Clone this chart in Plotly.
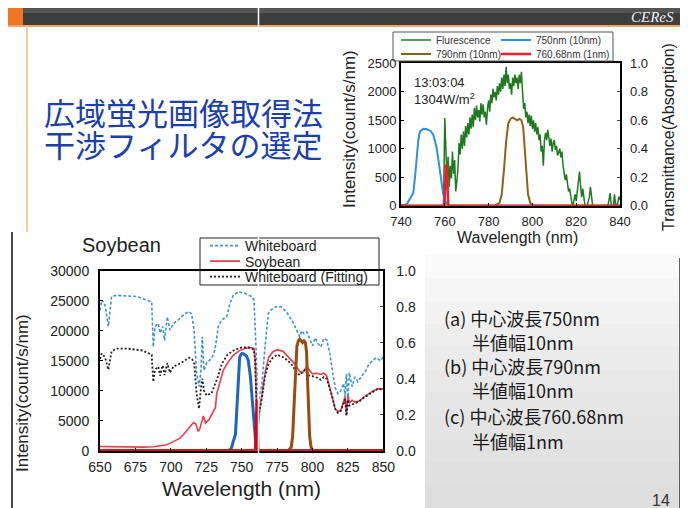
import plotly.graph_objects as go

# ---------------- data ----------------
# Top chart: fluorescence spectrum (count/s/nm)
fl_wl = [740, 759.4, 760.0, 760.5, 761.0, 761.5, 762.0, 762.5, 763.0, 763.5, 764.0, 764.5, 765.0, 765.5,
         766.0, 766.5, 767.0, 767.5, 768.0, 768.5, 769.0, 769.5, 770.0, 770.5, 771.0, 771.5, 772.0, 772.5,
         773.0, 773.5, 774.0, 774.5, 775.0, 775.5, 776.0, 776.5, 777.0, 777.5, 778.0, 778.5, 779.0, 779.5,
         780.0, 780.5, 781.0, 781.5, 782.0, 782.5, 783.0, 783.5, 784.0, 784.5, 785.0, 785.5, 786.0, 786.5,
         787.0, 787.5, 788.0, 788.5, 789.0, 789.5, 790.0, 790.5, 791.0, 791.5, 792.0, 792.5, 793.0, 793.5,
         794.0, 794.5, 795.0, 795.5, 796.0, 796.5, 797.0, 797.5, 798.0, 798.5, 799.0, 799.5, 800.0, 800.5,
         801.0, 801.5, 802.0, 802.5, 803.0, 803.5, 804.0, 804.5, 805.0, 805.5, 806.0, 806.5, 807.0, 807.5,
         808.0, 808.5, 809.0, 809.5, 810.0, 810.5, 811.0, 811.5, 812.0, 812.5, 813.0, 813.5, 814.0, 814.5,
         815.0, 815.5, 816.0, 816.5, 817.0, 817.5, 818.0, 818.5, 819.0, 819.5, 820.0, 820.5, 821.0, 821.5,
         822.0, 822.5, 823.0, 823.5, 824.0, 825.0, 826.0, 826.5, 827.0, 827.5, 834.5, 835.0, 835.5, 836.0,
         837.0, 837.5, 838.0, 839.0, 839.5, 840.0]
fl_val = [0, 0, 1540, 900, 450, 860, 330, 700, 480, 950, 560, 800, 250, 420,
          640, 1100, 900, 1250, 1000, 1300, 1050, 1400, 1200, 1450, 1250, 1550, 1350, 1600,
          1380, 1720, 1500, 1760, 1550, 1680, 1480, 1800, 1600, 1780, 1550, 1650, 1420, 1700,
          1850, 1650, 1950, 1800, 2050, 1900, 2000, 1850, 2100, 1950, 2150, 2000, 2250, 2050,
          2300, 2100, 2440, 2150, 2300, 2050, 2150, 1950, 2250, 2100, 2300, 2150, 2250, 2050,
          2300, 2150, 2350, 2000, 1700, 1800, 1550, 1650, 1450, 1600, 1400, 1580, 1350, 1500,
          1300, 1450, 1250, 1380, 1150, 1250, 950, 1050, 700, 1150, 1280, 1150, 1330, 1200,
          1050, 1180, 950, 1100, 1150, 980, 1050, 880, 950, 1000, 850, 950, 700, 600,
          450, 550, 350, 250, 300, 150, 50, 0, 120, 200, 80, 250, 400, 600,
          350, 150, 300, 100, 0, 0, 150, 330, 100, 0, 0, 150, 220, 0,
          0, 200, 0, 50, 160, 100]

# Interference filter transmittances (shared by both charts)
f750_wl = [650, 740, 742, 743, 744, 745, 745.6, 746.4, 747.1, 747.9, 748.6, 749.5, 750.2, 751.5, 752.5,
           753.5, 754.7, 755.5, 756.2, 757.0, 757.7, 758.5, 759.2, 760.0, 760.8, 762.0, 850]
f750_t = [0, 0, 0.005, 0.02, 0.05, 0.07, 0.09, 0.2, 0.32, 0.46, 0.52, 0.535, 0.54, 0.538, 0.533,
          0.525, 0.5, 0.46, 0.41, 0.33, 0.25, 0.16, 0.087, 0.04, 0.016, 0.0, 0.0]
f790_wl = [650, 783, 785, 786, 787, 788, 789, 790, 791, 792, 793, 794, 795, 795.8, 796.5, 797.3,
           798, 799, 800, 850]
f790_t = [0, 0, 0.02, 0.08, 0.25, 0.45, 0.58, 0.61, 0.62, 0.61, 0.6, 0.61, 0.6, 0.55, 0.4, 0.2,
          0.08, 0.02, 0, 0]
f761_wl = [650, 759.8, 760.2, 760.5, 760.9, 761.2, 761.6, 850]
f761_t = [0, 0, 0.15, 0.28, 0.28, 0.12, 0, 0]

# Bottom chart: whiteboard, soybean and fitted whiteboard spectra (count/s/nm)
wb_wl = [650, 651.2, 653.5, 655.9, 658.2, 661.8, 668.8, 675.9, 682.9, 686.5, 687.6, 688.8, 691.2, 692.4,
         694.2, 695.6, 697.5, 699.4, 701.8, 705.3, 708.8, 712.4, 714.7, 716.4, 718.2, 719.9, 721.3, 722.2,
         723.4, 725.3, 728.8, 731.2, 733.5, 735.9, 739.4, 741.8, 744.1, 747.6, 752.4, 757.1, 758.7, 760.6,
         761.8, 762.9, 764.1, 766.5, 768.8, 771, 774, 778, 782, 786, 789, 791, 792.5, 794, 796, 798, 800,
         802, 804, 806, 808, 810, 812, 814, 816, 818, 820, 822, 823, 824, 825, 826, 828, 830, 832, 835,
         838, 840, 843, 845, 848, 850]
wb_val = [23400, 25100, 24300, 20700, 25700, 25900, 25800, 25700, 25100, 24800, 17300, 20700, 21200, 19600,
          20700, 18400, 22300, 20100, 21200, 21800, 22600, 23200, 22800, 20100, 12900, 10700, 13400, 19000,
          13400, 14600, 15400, 16800, 20700, 21800, 22300, 24600, 25900, 26500, 26200, 25700, 25100, 13400,
          7900, 9600, 10700, 17300, 22900, 23500, 24000, 24000, 23000, 21500, 20000, 19000, 20000, 19500,
          19800, 18500, 17500, 18800, 17800, 17300, 18700, 18500, 16500, 13500, 10500, 9500, 10000, 11200,
          9000, 12800, 8500, 13000, 10700, 12300, 11500, 12500, 13500, 14500, 15100, 15500, 15000, 15600]

sb_wl = [650, 660, 670, 680, 688, 693, 697, 700, 703, 706.5, 709, 711.2, 713.5, 716, 717.5, 719.4, 720.5,
         723, 724.5, 727, 730, 731.5, 732.4, 734, 737, 740, 744, 748, 753, 757, 758.8, 759.6, 760.3, 761,
         762, 763, 765, 767, 769, 772, 775, 779, 783, 787, 791, 793, 796, 798, 800, 803, 806, 808, 810,
         812, 814, 816, 818, 820, 822, 823, 824, 825, 826, 828, 830, 833, 836, 840, 843, 846, 850]
sb_val = [700, 650, 600, 600, 650, 800, 1000, 1300, 1700, 2100, 2700, 3400, 4000, 4700, 4500, 3200, 3700,
          5800, 4600, 5200, 6400, 7200, 9500, 11000, 13400, 14600, 15900, 16600, 17100, 17200, 17000, 15000,
          8000, 3000, 4500, 7300, 10500, 13500, 15500, 16500, 16800, 16600, 15600, 14600, 13200, 13000,
          14000, 13300, 12800, 12900, 12700, 12900, 12500, 10700, 9000, 7000, 6500, 6800, 8200, 9000, 6000,
          9200, 8000, 8400, 8100, 8300, 8900, 9500, 10000, 10300, 10300]

wf_wl = [650, 651.2, 653.5, 655.9, 658.2, 662, 670, 680, 686.5, 687.6, 688.8, 691.2, 692.4, 694.2, 695.6,
         697.5, 699.4, 702, 705, 709, 713, 715, 716.5, 718.2, 719.9, 721.3, 722.2, 723.4, 725.3, 728.8,
         731.2, 733.5, 736, 740, 745, 750, 755, 758.5, 759.5, 760.6, 761.8, 763, 764.5, 766.5, 769, 772,
         775, 780, 785, 789, 791, 793, 795, 797, 800, 803, 806, 808, 810, 812, 814, 816, 818, 820, 822,
         823, 824, 825, 826, 828, 830, 833, 836, 840, 843, 846, 850]
wf_val = [15300, 16200, 15600, 13500, 16600, 17000, 17000, 16700, 16000, 11500, 13500, 14000, 12500, 14200,
          12600, 14600, 13000, 14100, 14300, 14900, 15500, 15300, 14500, 9500, 7000, 10500, 12000, 10000,
          9200, 9600, 11000, 12500, 14500, 16000, 16800, 17200, 17200, 16900, 15000, 7000, 5800, 7200, 9000,
          12500, 14500, 15500, 16000, 15500, 14500, 13000, 12600, 13200, 13500, 12600, 12400, 12200, 11800,
          12300, 12000, 10500, 9000, 7000, 6300, 6600, 8000, 8600, 5800, 8500, 7500, 7700, 7900, 8200,
          8800, 9400, 9900, 10300, 10200]

top_x_ticks = [740, 760, 780, 800, 820, 840]
top_y_ticks = [0, 500, 1000, 1500, 2000, 2500]
trans_ticks = [0.0, 0.2, 0.4, 0.6, 0.8, 1.0]
bot_x_ticks = [650, 675, 700, 725, 750, 775, 800, 825, 850]
bot_y_ticks = [0, 5000, 10000, 15000, 20000, 25000, 30000]

# ---------------- figure ----------------
# the page body adds an 8px offset, so the figure is 680x500 and coordinates are
# given in screen pixels of the 688x508 view
OFF = 8
W, H = 680, 500
def px(x):
    return (x - OFF) / W
def py(y):
    return 1 - (y - OFF) / H

SANS = "Arial, Liberation Sans, sans-serif"
CJK = "Noto Sans CJK JP"

fig = go.Figure()

# top chart
fig.add_trace(go.Scatter(x=fl_wl, y=fl_val, mode="lines", name="Flurescence", legendwidth=55,
                         line=dict(color="#1f7a1f", width=1.5), xaxis="x", yaxis="y", legend="legend"))
fig.add_trace(go.Scatter(x=f750_wl, y=f750_t, mode="lines", name="750nm (10nm)", legendwidth=80,
                         line=dict(color="#2f8fe0", width=2), xaxis="x", yaxis="y2", legend="legend"))
fig.add_trace(go.Scatter(x=f790_wl, y=f790_t, mode="lines", name="790nm (10nm)", legendwidth=55,
                         line=dict(color="#8a6414", width=2), xaxis="x", yaxis="y2", legend="legend2"))
fig.add_trace(go.Scatter(x=f761_wl, y=f761_t, mode="lines", name="760.68nm (1nm)", legendwidth=80,
                         line=dict(color="#e8202a", width=2.5), xaxis="x", yaxis="y2", legend="legend2"))

# bottom chart
fig.add_trace(go.Scatter(x=wb_wl, y=wb_val, mode="lines", name="Whiteboard",
                         line=dict(color="#3d92cf", width=1.6, dash="3px,2px"), xaxis="x2", yaxis="y3",
                         legend="legend3"))
fig.add_trace(go.Scatter(x=sb_wl, y=sb_val, mode="lines", name="Soybean",
                         line=dict(color="#ee3b4f", width=1.6), xaxis="x2", yaxis="y3", legend="legend4"))
fig.add_trace(go.Scatter(x=wf_wl, y=wf_val, mode="lines", name="Whiteboard (Fitting)",
                         line=dict(color="#222222", width=1.8, dash="2px,2px"), xaxis="x2", yaxis="y3",
                         legend="legend5"))
fig.add_trace(go.Scatter(x=f750_wl, y=f750_t, mode="lines", line=dict(color="#1a66c2", width=3),
                         xaxis="x2", yaxis="y4", showlegend=False))
fig.add_trace(go.Scatter(x=f790_wl, y=f790_t, mode="lines", line=dict(color="#9a4c10", width=3),
                         xaxis="x2", yaxis="y4", showlegend=False))
fig.add_trace(go.Scatter(x=f761_wl, y=f761_t, mode="lines", line=dict(color="#e00010", width=3),
                         xaxis="x2", yaxis="y4", showlegend=False))

ax = dict(showline=True, linecolor="black", linewidth=2, mirror=True, ticks="inside", ticklen=3,
          tickcolor="black", showgrid=False, zeroline=False)
tf_top = dict(family=SANS, size=13, color="#222")
tf_bot = dict(family=SANS, size=14, color="#222")

fig.update_layout(
    width=W, height=H, autosize=False,
    margin=dict(l=0, r=0, t=0, b=0, pad=0, autoexpand=False),
    paper_bgcolor="white", plot_bgcolor="white",
    xaxis=dict(domain=[px(401), px(620)], range=[740, 840], tickvals=top_x_ticks, anchor="y",
               tickfont=tf_top, ticklabelstandoff=3, **ax),
    yaxis=dict(domain=[py(205.7), py(63.3)], range=[0, 2500], tickvals=top_y_ticks, tickformat="d",
               anchor="x", tickfont=tf_top, **ax),
    yaxis2=dict(overlaying="y", side="right", anchor="x", range=[0, 1], tickvals=trans_ticks,
                tickformat=".1f", ticks="inside", ticklen=3, showgrid=False, zeroline=False,
                showline=False, tickfont=tf_top, ticklabelstandoff=9),
    xaxis2=dict(domain=[px(100), px(383.3)], range=[650, 850], tickvals=bot_x_ticks, anchor="y3",
                tickfont=tf_bot, ticklabelstandoff=2, **ax),
    yaxis3=dict(domain=[py(450.7), py(270.7)], range=[0, 30000], tickvals=bot_y_ticks, tickformat="d",
                anchor="x2", tickfont=tf_bot, ticklabelstandoff=6, **ax),
    yaxis4=dict(overlaying="y3", side="right", anchor="x2", range=[0, 1], tickvals=trans_ticks,
                tickformat=".1f", ticks="inside", ticklen=3, showgrid=False, zeroline=False,
                showline=False, tickfont=tf_bot, ticklabelstandoff=12),
)

leg_top = dict(orientation="h", bgcolor="rgba(0,0,0,0)", borderwidth=0, xanchor="left", yanchor="middle",
               font=dict(family=SANS, size=10, color="#333"), itemwidth=30)
leg_bot = dict(orientation="h", bgcolor="rgba(0,0,0,0)", borderwidth=0, xanchor="left", yanchor="middle",
               font=dict(family=SANS, size=14, color="#222"), itemwidth=30)
fig.update_layout(
    legend=dict(x=px(396), y=py(40), **leg_top),
    legend2=dict(x=px(396), y=py(54), **leg_top),
    legend3=dict(x=px(205), y=py(246), **leg_bot),
    legend4=dict(x=px(205), y=py(261.5), **leg_bot),
    legend5=dict(x=px(205), y=py(277), **leg_bot),
)

shapes = []
# slide decorations
grays = ["#fafafa", "#f6f6f6", "#f2f2f2", "#eeeeee", "#ebebeb", "#e8e8e8", "#e6e6e6", "#e4e4e4",
         "#e2e2e2", "#e0e0e0", "#dedede"]
band = (508 - 255) / len(grays)
for i, c in enumerate(grays):
    shapes.append(dict(type="rect", xref="paper", yref="paper", x0=px(425), x1=px(680),
                       y0=py(255 + (i + 1) * band), y1=py(255 + i * band), fillcolor=c,
                       line=dict(width=0), layer="below"))
shapes += [
    dict(type="rect", xref="paper", yref="paper", x0=px(8), x1=px(683), y0=py(25), y1=py(8),
         fillcolor="#3e3e3e", line=dict(width=0), layer="below"),
    dict(type="rect", xref="paper", yref="paper", x0=px(8), x1=px(683), y0=py(13), y1=py(8),
         fillcolor="#555555", line=dict(width=0), layer="below"),
    dict(type="rect", xref="paper", yref="paper", x0=px(8), x1=px(23), y0=py(25), y1=py(8),
         fillcolor="#ee7722", line=dict(width=0), layer="below"),
    dict(type="line", xref="paper", yref="paper", x0=px(8), x1=px(683), y0=py(26), y1=py(26),
         line=dict(color="#e98a3c", width=1.5), layer="below"),
    dict(type="line", xref="paper", yref="paper", x0=px(27), x1=px(27), y0=py(26), y1=py(232),
         line=dict(color="#f4c9a2", width=2), layer="below"),
    dict(type="line", xref="paper", yref="paper", x0=px(12), x1=px(12), y0=py(232), y1=py(508),
         line=dict(color="#111", width=1.5), layer="below"),
    dict(type="line", xref="paper", yref="paper", x0=px(680), x1=px(680), y0=py(258), y1=py(508),
         line=dict(color="#333", width=1.5), layer="below"),
    # legend frames
    dict(type="rect", xref="paper", yref="paper", x0=px(393), x1=px(613), y0=py(61), y1=py(32),
         line=dict(color="#555", width=1), fillcolor="rgba(0,0,0,0)"),
    dict(type="rect", xref="paper", yref="paper", x0=px(200), x1=px(379), y0=py(285), y1=py(238),
         line=dict(color="#222", width=1), fillcolor="rgba(255,255,255,0)"),
    # white stitch line
    dict(type="line", xref="paper", yref="paper", x0=px(258.5), x1=px(258.5), y0=0, y1=py(8),
         line=dict(color="white", width=1.5), layer="above"),
]
fig.update_layout(shapes=shapes)

def ann(text, x, y, size, color="#222", family=SANS, xanchor="center", yanchor="middle", angle=0, **kw):
    return dict(text=text, x=px(x), y=py(y), xref="paper", yref="paper", showarrow=False,
                xanchor=xanchor, yanchor=yanchor, textangle=angle,
                font=dict(family=family, size=size, color=color, **kw))

annotations = [
    ann("CEReS", 676, 17, 15, color="#eeeeee", family="Liberation Serif, serif", xanchor="right", style="italic"),
    ann("広域蛍光画像取得法", 42, 112, 31, color="#1c3fae", family=CJK, xanchor="left"),
    ann("干渉フィルタの選定", 42, 143, 31, color="#1c3fae", family=CJK, xanchor="left"),
    ann("Intensity(count/s/nm)", 349, 129, 17, angle=-90),
    ann("Transmittance(Absorption)", 668, 137, 16, angle=-90),
    ann("Wavelength (nm)", 517, 238, 16),
    ann("13:03:04", 412, 82, 13, xanchor="left"),
    ann("1304W/m<sup>2</sup>", 412, 99, 13, xanchor="left"),
    ann("Soybean", 80, 245, 20, xanchor="left"),
    ann("Intensity(count/s/nm)", 22, 393, 17, angle=-90),
    ann("Wavelength (nm)", 241, 488, 21),
    ann("(a) 中心波長750nm", 442, 318, 18, color="#1a1a1a", family=CJK, xanchor="left"),
    ann("半値幅10nm", 470, 342, 18, color="#1a1a1a", family=CJK, xanchor="left"),
    ann("(b) 中心波長790nm", 442, 366, 18, color="#1a1a1a", family=CJK, xanchor="left"),
    ann("半値幅10nm", 470, 390, 18, color="#1a1a1a", family=CJK, xanchor="left"),
    ann("(c) 中心波長760.68nm", 442, 416, 18, color="#1a1a1a", family=CJK, xanchor="left"),
    ann("半値幅1nm", 470, 441, 18, color="#1a1a1a", family=CJK, xanchor="left"),
    ann("14", 672, 500, 16, color="#333", xanchor="right"),
]
fig.update_layout(annotations=annotations)

fig.write_html("out.html")
